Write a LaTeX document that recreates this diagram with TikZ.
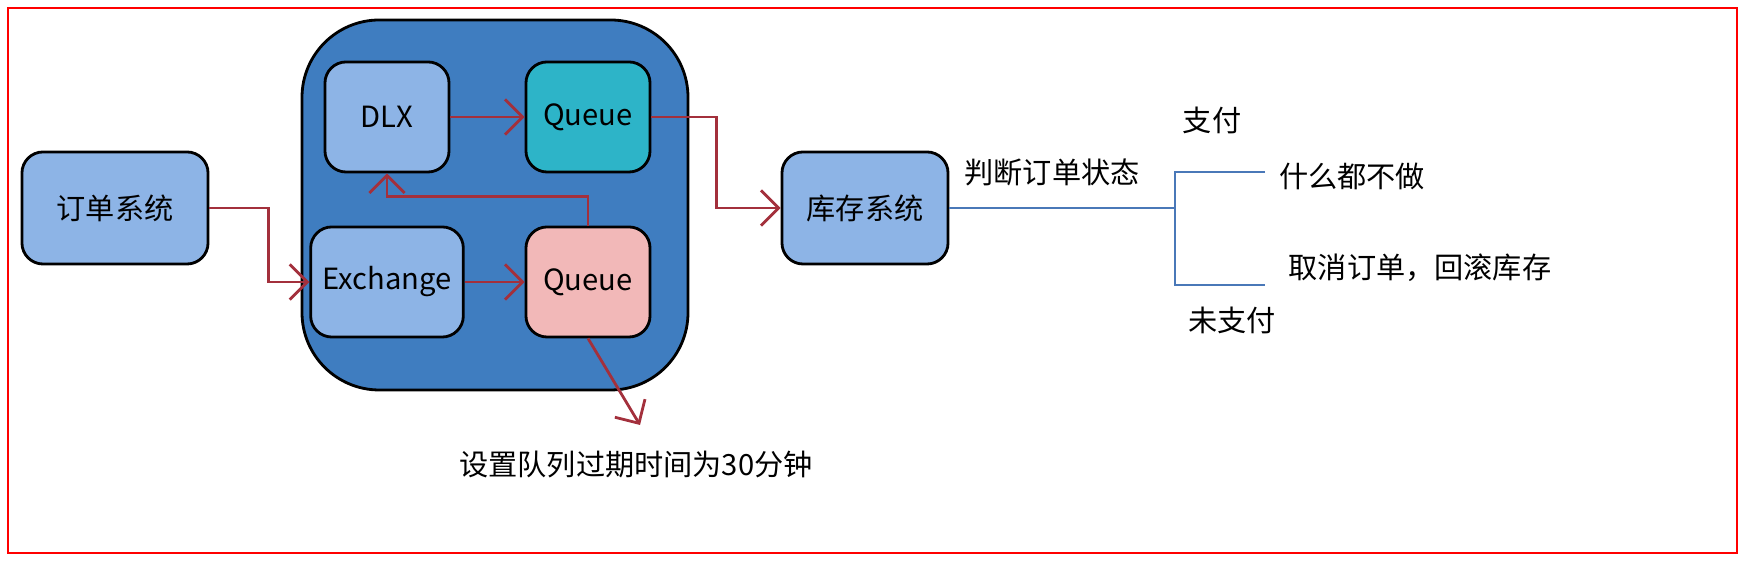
\documentclass[tikz,border=0pt]{standalone}
\usepackage{fontspec}
\setmainfont{Noto Sans CJK SC}
\usetikzlibrary{arrows.meta,positioning}
\definecolor{outerblue}{HTML}{3F7DC0}
\definecolor{boxblue}{HTML}{8DB4E6}
\definecolor{teal}{HTML}{2DB4C8}
\definecolor{pinkq}{HTML}{F2B8B8}
\definecolor{arrowred}{HTML}{A3303C}
\definecolor{lineblue}{HTML}{4A78B8}
\tikzset{
  box/.style={draw=black, thick, rounded corners=6pt, fill=boxblue, minimum width=1.24cm, minimum height=1.1cm, font=\fontsize{8.3}{10}\selectfont},
  sysbox/.style={box, minimum width=1.86cm, minimum height=1.12cm},
  flow/.style={draw=arrowred, thick, -{Straight Barb[length=5pt]}},
  lbl/.style={font=\fontsize{8.3}{10}\selectfont}
}
\begin{document}
\begin{tikzpicture}[x=0.01cm,y=-0.01cm]
\useasboundingbox (0,0) rectangle (1745,562);
\draw[red, thick] (8,8) rectangle (1737,553);
\draw[thick, fill=outerblue, rounded corners=22pt] (302,20) rectangle (688,390);

\node[sysbox] (order) at (115,208) {订单系统};
\node[box] (dlx) at (387,117) {DLX};
\node[box, fill=teal] (dlq) at (588,117) {Queue};
\node[box] (exch) at (387,282) {Exchange};
\node[box, fill=pinkq] (ttlq) at (588,282) {Queue};
\node[sysbox, minimum width=1.66cm] (stock) at (865,208) {库存系统};

\coordinate (expire) at (640,425);
\node[lbl] (expiretxt) at (636,465) {设置队列过期时间为30分钟};

\draw[flow] (order.east) -- ++(59,0) |- (exch.west);
\draw[flow] (exch) -- (ttlq);
\draw[flow] (dlx) -- (dlq);
\draw[flow] (ttlq.north) -- ++(0,-29) -| (dlx.south);
\draw[flow] (dlq.east) -- ++(65,0) |- (stock.west);
\draw[flow] (ttlq.south) -- (expire);

\node[lbl] (judge) at (1052,172) {判断订单状态};
\coordinate (fork) at (1175,208);
\coordinate (payend) at (1265,172);
\coordinate (unpayend) at (1265,285);
\draw[lineblue, thick] (stock.east) -- (fork);
\draw[lineblue, thick] (payend) -| (fork) |- (unpayend);
\node[lbl] (pay) at (1212,120) {支付};
\node[lbl] (nothing) at (1352,176) {什么都不做};
\node[lbl] (cancel) at (1420,268) {取消订单，回滚库存};
\node[lbl] (unpay) at (1232,320) {未支付};
\end{tikzpicture}
\end{document}
